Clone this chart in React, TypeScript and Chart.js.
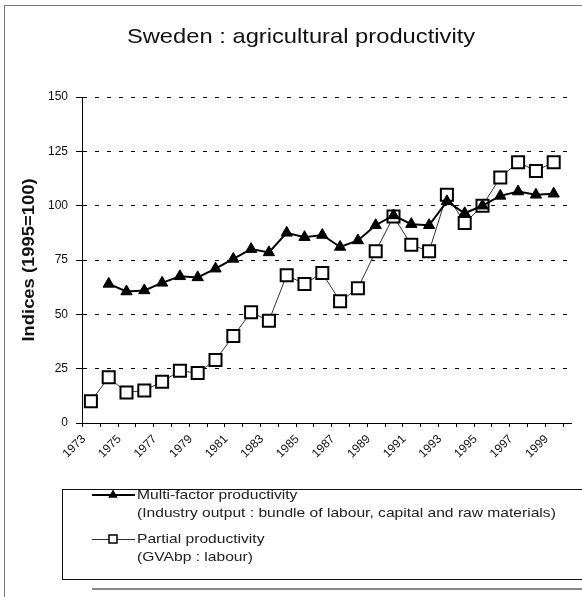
import React, { useEffect, useRef } from 'react';
import { Chart, registerables } from 'chart.js';

Chart.register(...registerables);

// ---------- data ----------
const years = [
  1973, 1974, 1975, 1976, 1977, 1978, 1979, 1980, 1981, 1982, 1983, 1984, 1985, 1986,
  1987, 1988, 1989, 1990, 1991, 1992, 1993, 1994, 1995, 1996, 1997, 1998, 1999,
];
const multiFactor = [
  null, 64, 60.5, 61, 64.5, 67.5, 67, 71, 75.5, 80, 78.5, 87.5, 85.5, 86.5,
  81, 84, 91, 95.5, 91.5, 91, 102, 96.5, 100, 104.5, 106.5, 105, 105.5,
];
const partial = [
  10, 21, 14, 15, 19, 24, 23, 29, 40, 51, 47, 68, 64, 69,
  56, 62, 79, 95, 82, 79, 105, 92, 100, 113, 120, 116, 120,
];
const xTickLabels = [
  '1973', '1975', '1977', '1979', '1981', '1983', '1985', '1987', '1989', '1991', '1993', '1995', '1997', '1999',
];
const yMin = 0;
const yMax = 150;
const yStep = 25;
const chartTitle = 'Sweden : agricultural productivity';
const yAxisTitle = 'Indices (1995=100)';
const multiLegend = ['Multi-factor productivity', '(Industry output : bundle of labour, capital and raw materials)'];
const partialLegend = ['Partial productivity', '(GVAbp : labour)'];

// ---------- style ----------
const FONT = "'Liberation Sans', Arial, Helvetica, sans-serif";
const LABEL_SHIFT = 0.4;

const decor = {
  id: 'decor',
  beforeDraw(chart: any) {
    const { ctx, width, height } = chart;
    ctx.save();
    ctx.fillStyle = '#fff';
    ctx.fillRect(0, 0, width, height);
    ctx.strokeStyle = '#777';
    ctx.lineWidth = 1;
    ctx.beginPath();
    ctx.moveTo(4.5, 5);
    ctx.lineTo(4.5, height);
    ctx.moveTo(4, 5.5);
    ctx.lineTo(width, 5.5);
    ctx.stroke();
    ctx.strokeStyle = '#888';
    ctx.lineWidth = 2;
    ctx.beginPath();
    ctx.moveTo(92, 589);
    ctx.lineTo(width, 589);
    ctx.stroke();
    ctx.restore();
  },
  afterDraw(chart: any) {
    const { ctx } = chart;
    const xs = chart.scales.x;
    const ds = chart.data.datasets;
    ctx.save();

    // x tick marks at category boundaries
    ctx.strokeStyle = '#000';
    ctx.lineWidth = 1;
    ctx.beginPath();
    for (let k = 0; k <= years.length; k++) {
      const px = Math.round(xs.getPixelForValue(years[0] - 0.5 + k)) + 0.5;
      ctx.moveTo(px, xs.top);
      ctx.lineTo(px, xs.top + 4);
    }
    ctx.stroke();

    // title
    ctx.fillStyle = '#111';
    ctx.font = `21px ${FONT}`;
    ctx.textAlign = 'center';
    ctx.textBaseline = 'alphabetic';
    ctx.save();
    ctx.translate(301, 43);
    ctx.scale(1.13, 1);
    ctx.fillText(chartTitle, 0, 0);
    ctx.restore();

    // y axis title
    ctx.font = `bold 16px ${FONT}`;
    ctx.textBaseline = 'middle';
    ctx.save();
    ctx.translate(30, 260);
    ctx.rotate(-Math.PI / 2);
    ctx.scale(1.15, 1);
    ctx.fillText(yAxisTitle, 0, 0);
    ctx.restore();

    // legend box
    ctx.strokeStyle = '#111';
    ctx.lineWidth = 1;
    ctx.strokeRect(62.5, 489.5, 600, 90);

    // legend item 1
    ctx.strokeStyle = ds[0].borderColor;
    ctx.lineWidth = 2;
    ctx.beginPath();
    ctx.moveTo(92, 495);
    ctx.lineTo(135, 495);
    ctx.stroke();
    ctx.fillStyle = ds[0].pointBackgroundColor;
    const r = 5.5;
    ctx.beginPath();
    ctx.moveTo(113, 495 - r);
    ctx.lineTo(113 + r * 0.866, 495 + r / 2);
    ctx.lineTo(113 - r * 0.866, 495 + r / 2);
    ctx.closePath();
    ctx.fill();

    // legend item 2
    ctx.strokeStyle = ds[1].borderColor;
    ctx.lineWidth = 1;
    ctx.beginPath();
    ctx.moveTo(92, 539.5);
    ctx.lineTo(135, 539.5);
    ctx.stroke();
    ctx.fillStyle = ds[1].pointBackgroundColor;
    ctx.strokeStyle = ds[1].pointBorderColor;
    ctx.lineWidth = 1.5;
    ctx.fillRect(109, 535, 8, 8);
    ctx.strokeRect(109, 535, 8, 8);

    // legend text
    ctx.fillStyle = '#222';
    ctx.font = `13px ${FONT}`;
    ctx.textAlign = 'left';
    ctx.textBaseline = 'middle';
    const lines: [string, number][] = [
      [multiLegend[0], 495],
      [multiLegend[1], 513],
      [partialLegend[0], 539],
      [partialLegend[1], 557],
    ];
    for (const [t, y] of lines) {
      ctx.save();
      ctx.translate(137, y);
      ctx.scale(1.2, 1);
      ctx.fillText(t, 0, 0);
      ctx.restore();
    }
    ctx.restore();
  },
};

export default function App() {
  const ref = useRef<HTMLCanvasElement>(null);

  useEffect(() => {
    document.body.style.margin = '0';
    const canvas = ref.current!;
    const chart = new Chart(canvas, {
      type: 'line',
      data: {
        datasets: [
          {
            label: multiLegend[0],
            data: years.map((y, i) => ({ x: y, y: multiFactor[i] })) as any,
            borderColor: '#000',
            borderWidth: 2,
            pointStyle: 'triangle',
            pointRadius: 6.5,
            pointBackgroundColor: '#000',
            pointBorderColor: '#000',
            pointBorderWidth: 1,
            tension: 0,
            spanGaps: false,
          },
          {
            label: partialLegend[0],
            data: years.map((y, i) => ({ x: y, y: partial[i] })),
            borderColor: '#333',
            borderWidth: 1,
            pointStyle: 'rect',
            pointRadius: 8.5,
            pointBackgroundColor: '#fff',
            pointBorderColor: '#000',
            pointBorderWidth: 2,
            tension: 0,
          },
        ],
      },
      options: {
        responsive: false,
        animation: false,
        devicePixelRatio: 1,
        layout: { padding: { left: 0, top: 97, right: 5, bottom: 114 } },
        plugins: {
          legend: { display: false },
          title: { display: false },
          tooltip: { enabled: false },
        },
        scales: {
          x: {
            type: 'linear',
            min: years[0] - 0.5,
            max: years[years.length - 1] + 1,
            afterBuildTicks: (scale: any) => {
              scale.ticks = xTickLabels.map((l) => ({ value: Number(l) - LABEL_SHIFT }));
            },
            afterFit: (scale: any) => {
              scale.height = 60;
            },
            grid: { display: false, drawTicks: false, tickLength: 0 },
            border: { display: true, color: '#000', width: 1 },
            ticks: {
              autoSkip: false,
              minRotation: 45,
              maxRotation: 45,
              padding: 9,
              color: '#111',
              font: { family: FONT, size: 12 },
              callback: (_v: any, i: number) => xTickLabels[i],
            },
          },
          y: {
            min: yMin,
            max: yMax,
            afterFit: (scale: any) => {
              scale.width = 82;
            },
            grid: {
              color: (c: any) => (c.tick && c.tick.value === 0 ? 'rgba(0,0,0,0)' : '#000'),
              lineWidth: 1,
              drawTicks: true,
              tickLength: 6,
              tickColor: '#000',
              tickBorderDash: [],
            },
            border: { display: true, color: '#000', width: 1, dash: [4, 8] },
            ticks: {
              stepSize: yStep,
              padding: 8,
              color: '#111',
              font: { family: FONT, size: 12 },
            },
          },
        },
      },
      plugins: [decor],
    });
    return () => chart.destroy();
  }, []);

  return (
    <div style={{ width: 582, height: 597, position: 'relative' }}>
      <canvas ref={ref} width={582} height={597} style={{ display: 'block' }} />
    </div>
  );
}
